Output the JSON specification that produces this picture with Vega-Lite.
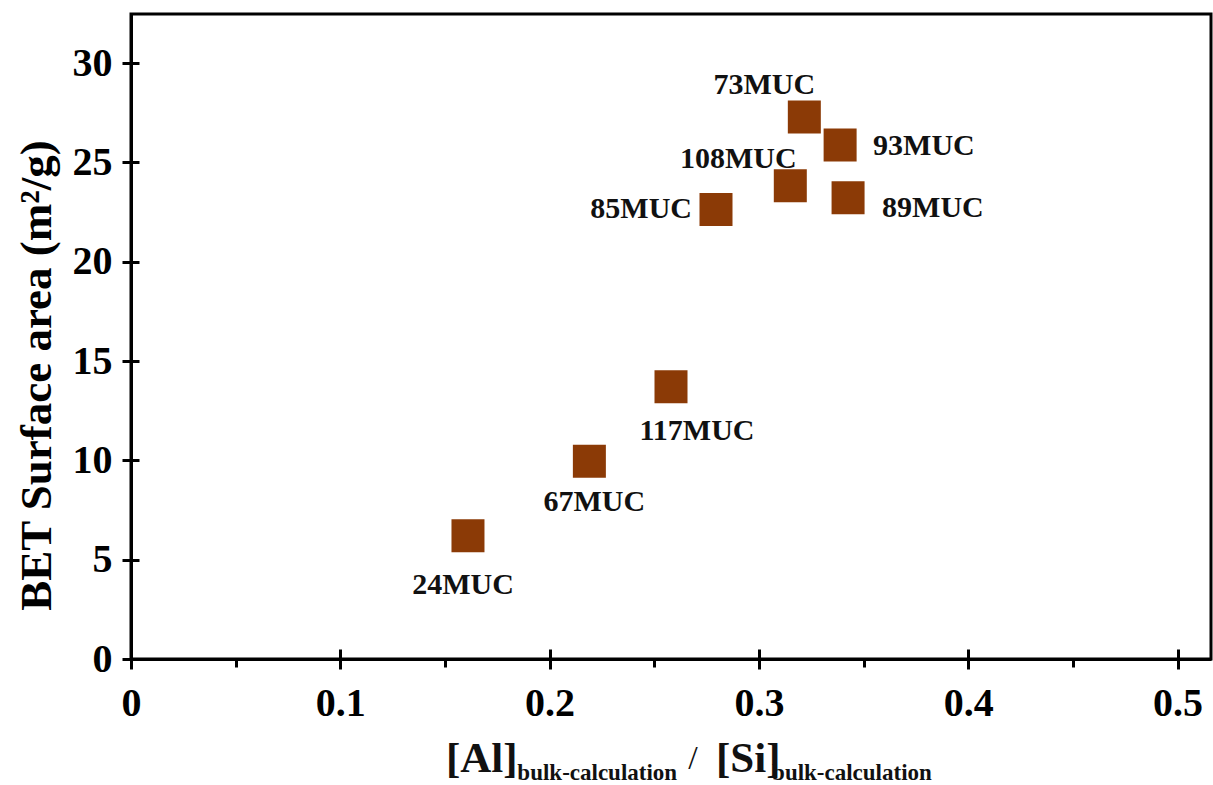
{
  "$schema": "https://vega.github.io/schema/vega-lite/v6.json",
  "width": 1080,
  "height": 645,
  "autosize": {"type": "none"},
  "padding": {"left": 131, "top": 14, "right": 2, "bottom": 126},
  "background": "white",
  "config": {
    "view": {"stroke": "#000", "strokeWidth": 3},
    "font": "Liberation Serif",
    "axis": {"grid": false, "tickColor": "#000", "domainColor": "#000", "labelColor": "#000", "titleColor": "#000"}
  },
  "data": {
    "values": [
      {"sample": "24MUC", "ratio": 0.161, "bet": 6.2},
      {"sample": "67MUC", "ratio": 0.219, "bet": 9.95},
      {"sample": "117MUC", "ratio": 0.258, "bet": 13.7},
      {"sample": "85MUC", "ratio": 0.2795, "bet": 22.63},
      {"sample": "108MUC", "ratio": 0.315, "bet": 23.82},
      {"sample": "73MUC", "ratio": 0.3217, "bet": 27.28},
      {"sample": "93MUC", "ratio": 0.3388, "bet": 25.88},
      {"sample": "89MUC", "ratio": 0.3426, "bet": 23.22}
    ]
  },
  "layer": [
    {
      "mark": {"type": "square", "size": 1089, "filled": true, "color": "#8b3a06", "opacity": 1},
      "encoding": {
        "x": {"field": "ratio", "type": "quantitative", "scale": {"domain": [0, 0.516], "nice": false, "zero": false},
          "axis": {"orient": "bottom", "values": [0, 0.1, 0.2, 0.3, 0.4, 0.5], "format": "~g", "labelFlush": false, "tickSize": 10, "tickWidth": 3, "domainWidth": 3, "labelFont": "Liberation Serif", "labelFontWeight": "bold", "labelFontSize": 40, "labelPadding": 14, "title": null}},
        "y": {"field": "bet", "type": "quantitative", "scale": {"domain": [0, 32.47], "nice": false, "zero": false},
          "axis": {"orient": "left", "values": [0, 5, 10, 15, 20, 25, 30], "format": "~g", "tickSize": 9, "tickWidth": 3, "domainWidth": 3, "labelFont": "Liberation Serif", "labelFontWeight": "bold", "labelFontSize": 40, "labelPadding": 10,
            "title": "BET Surface area (m²/g)", "titleFont": "Liberation Serif", "titleFontWeight": "bold", "titleFontSize": 45, "titleAngle": -90, "titleAlign": "center", "titleBaseline": "middle", "titleX": -95, "titleY": 361}}
      }
    },
    {
      "mark": {"type": "point", "opacity": 0},
      "encoding": {
        "x": {"field": "ratio", "type": "quantitative", "scale": {"domain": [0, 0.516], "nice": false, "zero": false},
          "axis": {"orient": "bottom", "values": [0, 0.1, 0.2, 0.3, 0.4, 0.5], "tickSize": -10, "tickWidth": 3, "domain": false, "labels": false, "title": null}},
        "y": {"field": "bet", "type": "quantitative", "scale": {"domain": [0, 32.47], "nice": false, "zero": false},
          "axis": {"orient": "left", "values": [0, 5, 10, 15, 20, 25, 30], "tickSize": -8, "tickWidth": 3, "domain": false, "labels": false, "title": null}}
      }
    },
    {
      "mark": {"type": "point", "opacity": 0},
      "encoding": {
        "x": {"field": "ratio", "type": "quantitative", "scale": {"domain": [0, 0.516], "nice": false, "zero": false},
          "axis": {"orient": "bottom", "values": [0.05, 0.15, 0.25, 0.35, 0.45], "tickSize": 8, "tickWidth": 3, "domain": false, "labels": false, "title": null}},
        "y": {"field": "bet", "type": "quantitative", "scale": {"domain": [0, 32.47], "nice": false, "zero": false}, "axis": null}
      }
    },
    {
      "transform": [{"filter": "datum.sample == '24MUC'"}],
      "mark": {"type": "text", "dx": -5, "dy": 49, "align": "center", "baseline": "middle", "font": "Liberation Serif", "fontWeight": "bold", "fontSize": 30, "color": "#111"},
      "encoding": {"x": {"field": "ratio", "type": "quantitative", "axis": null}, "y": {"field": "bet", "type": "quantitative", "axis": null}, "text": {"field": "sample"}}
    },
    {
      "transform": [{"filter": "datum.sample == '67MUC'"}],
      "mark": {"type": "text", "dx": 5, "dy": 41, "align": "center", "baseline": "middle", "font": "Liberation Serif", "fontWeight": "bold", "fontSize": 30, "color": "#111"},
      "encoding": {"x": {"field": "ratio", "type": "quantitative", "axis": null}, "y": {"field": "bet", "type": "quantitative", "axis": null}, "text": {"field": "sample"}}
    },
    {
      "transform": [{"filter": "datum.sample == '117MUC'"}],
      "mark": {"type": "text", "dx": 26, "dy": 44, "align": "center", "baseline": "middle", "font": "Liberation Serif", "fontWeight": "bold", "fontSize": 30, "color": "#111"},
      "encoding": {"x": {"field": "ratio", "type": "quantitative", "axis": null}, "y": {"field": "bet", "type": "quantitative", "axis": null}, "text": {"field": "sample"}}
    },
    {
      "transform": [{"filter": "datum.sample == '73MUC'"}],
      "mark": {"type": "text", "dx": -40, "dy": -32, "align": "center", "baseline": "middle", "font": "Liberation Serif", "fontWeight": "bold", "fontSize": 30, "color": "#111"},
      "encoding": {"x": {"field": "ratio", "type": "quantitative", "axis": null}, "y": {"field": "bet", "type": "quantitative", "axis": null}, "text": {"field": "sample"}}
    },
    {
      "transform": [{"filter": "datum.sample == '93MUC'"}],
      "mark": {"type": "text", "dx": 33, "dy": 1, "align": "left", "baseline": "middle", "font": "Liberation Serif", "fontWeight": "bold", "fontSize": 30, "color": "#111"},
      "encoding": {"x": {"field": "ratio", "type": "quantitative", "axis": null}, "y": {"field": "bet", "type": "quantitative", "axis": null}, "text": {"field": "sample"}}
    },
    {
      "transform": [{"filter": "datum.sample == '108MUC'"}],
      "mark": {"type": "text", "dx": -52, "dy": -27, "align": "center", "baseline": "middle", "font": "Liberation Serif", "fontWeight": "bold", "fontSize": 30, "color": "#111"},
      "encoding": {"x": {"field": "ratio", "type": "quantitative", "axis": null}, "y": {"field": "bet", "type": "quantitative", "axis": null}, "text": {"field": "sample"}}
    },
    {
      "transform": [{"filter": "datum.sample == '85MUC'"}],
      "mark": {"type": "text", "dx": -24, "dy": 0, "align": "right", "baseline": "middle", "font": "Liberation Serif", "fontWeight": "bold", "fontSize": 30, "color": "#111"},
      "encoding": {"x": {"field": "ratio", "type": "quantitative", "axis": null}, "y": {"field": "bet", "type": "quantitative", "axis": null}, "text": {"field": "sample"}}
    },
    {
      "transform": [{"filter": "datum.sample == '89MUC'"}],
      "mark": {"type": "text", "dx": 34, "dy": 10, "align": "left", "baseline": "middle", "font": "Liberation Serif", "fontWeight": "bold", "fontSize": 30, "color": "#111"},
      "encoding": {"x": {"field": "ratio", "type": "quantitative", "axis": null}, "y": {"field": "bet", "type": "quantitative", "axis": null}, "text": {"field": "sample"}}
    },
    {
      "data": {"values": [{}]},
      "mark": {"type": "text", "text": "[Al]", "align": "left", "baseline": "alphabetic", "dy": 113, "font": "Liberation Serif", "fontWeight": "bold", "fontSize": 43, "color": "#111"},
      "encoding": {"x": {"datum": 0.1505, "type": "quantitative", "axis": null}, "y": {"datum": 0, "type": "quantitative", "axis": null}}
    },
    {
      "data": {"values": [{}]},
      "mark": {"type": "text", "text": "bulk-calculation", "align": "left", "baseline": "alphabetic", "dy": 121, "font": "Liberation Serif", "fontWeight": "bold", "fontSize": 23, "color": "#111"},
      "encoding": {"x": {"datum": 0.1846, "type": "quantitative", "axis": null}, "y": {"datum": 0, "type": "quantitative", "axis": null}}
    },
    {
      "data": {"values": [{}]},
      "mark": {"type": "text", "text": "/", "align": "center", "baseline": "alphabetic", "dy": 110, "font": "Liberation Serif", "fontWeight": "normal", "fontSize": 34, "color": "#111"},
      "encoding": {"x": {"datum": 0.2685, "type": "quantitative", "axis": null}, "y": {"datum": 0, "type": "quantitative", "axis": null}}
    },
    {
      "data": {"values": [{}]},
      "mark": {"type": "text", "text": "[Si]", "align": "left", "baseline": "alphabetic", "dy": 113, "font": "Liberation Serif", "fontWeight": "bold", "fontSize": 43, "color": "#111"},
      "encoding": {"x": {"datum": 0.2795, "type": "quantitative", "axis": null}, "y": {"datum": 0, "type": "quantitative", "axis": null}}
    },
    {
      "data": {"values": [{}]},
      "mark": {"type": "text", "text": "bulk-calculation", "align": "left", "baseline": "alphabetic", "dy": 121, "font": "Liberation Serif", "fontWeight": "bold", "fontSize": 23, "color": "#111"},
      "encoding": {"x": {"datum": 0.3063, "type": "quantitative", "axis": null}, "y": {"datum": 0, "type": "quantitative", "axis": null}}
    }
  ],
  "resolve": {"axis": {"x": "independent", "y": "independent"}}
}
